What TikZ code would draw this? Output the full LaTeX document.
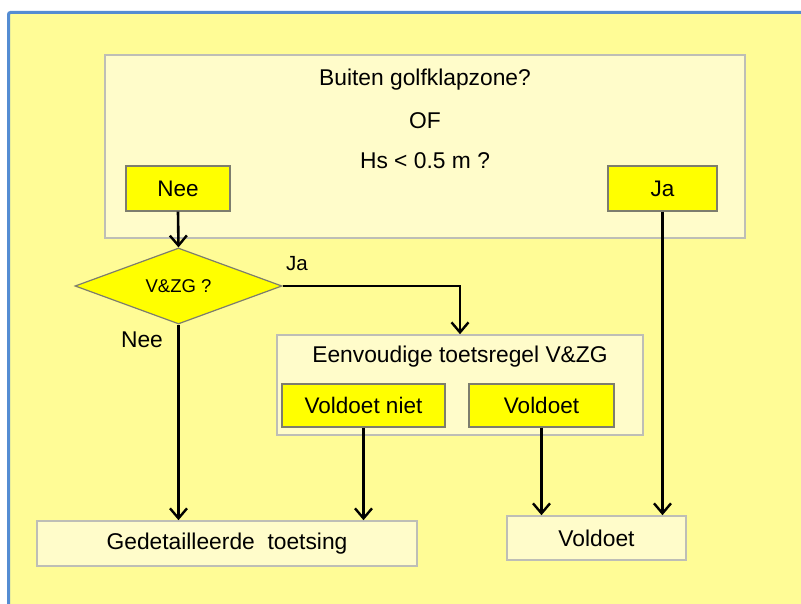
\documentclass[tikz,border=0pt]{standalone}
\usepackage{fontspec}
\setmainfont{Liberation Sans}
\usetikzlibrary{arrows.meta,shapes.geometric}

\definecolor{pagebg}{RGB}{255,252,150}
\definecolor{panelfill}{RGB}{255,252,202}
\definecolor{panelline}{RGB}{190,190,182}
\definecolor{keyfill}{RGB}{255,255,0}
\definecolor{keyline}{RGB}{125,125,110}
\definecolor{frameblue}{RGB}{84,140,210}

\tikzset{
  panel/.style={draw=panelline, fill=panelfill, line width=1.6pt, rectangle, inner sep=0pt},
  keybox/.style={draw=keyline, fill=keyfill, line width=1.4pt, rectangle, inner sep=0pt,
    font=\fontsize{22.5}{26}\selectfont},
  txt/.style={font=\fontsize{22.8}{26}\selectfont, inner sep=0pt},
  flow/.style={draw=black, line width=2.6pt, -{Straight Barb[length=10pt, width=17pt, line width=2.4pt]}}
}

\begin{document}
\begin{tikzpicture}[x=1pt, y=-1pt]
\useasboundingbox (0,0) rectangle (801,604);
\fill[white] (0,0) rectangle (801,604);
\fill[pagebg] (9,12) rectangle (801,604);
\draw[frameblue, line width=3pt, rounded corners=2pt] (8.5,604) -- (8.5,12.5) -- (801,12.5);

% top question panel
\node[panel, minimum width=640pt, minimum height=183pt] (question) at (425,146.5) {};
\node[txt] (qline1) at (425,80) {Buiten golfklapzone?};
\node[txt] (qline2) at (425,121) {OF};
\node[txt] (qline3) at (425,161) {Hs < 0.5 m ?};
\node[keybox, minimum width=104pt, minimum height=45pt] (qnee) at (178,188.5) {Nee};
\node[keybox, minimum width=109pt, minimum height=45pt] (qja) at (662.5,188.5) {Ja};

% decision diamond
\node[diamond, draw=keyline, fill=keyfill, line width=1.2pt, inner sep=0pt,
      minimum width=207pt, minimum height=76pt, aspect=2.72,
      font=\fontsize{18.5}{22}\selectfont] (vzg) at (178.5,286) {V\&ZG ?};

% simple rule panel
\node[panel, minimum width=366pt, minimum height=100pt] (rule) at (460,385) {};
\node[txt] (ruletitle) at (460,357) {Eenvoudige toetsregel V\&ZG};
\node[keybox, minimum width=163pt, minimum height=43pt] (rniet) at (363.5,405.5) {Voldoet niet};
\node[keybox, minimum width=145pt, minimum height=43pt] (rvold) at (541.5,405.5) {Voldoet};

% outcomes
\node[panel, minimum width=380pt, minimum height=45pt, txt] (detail) at (227,543.5) {Gedetailleerde\ \ toetsing};
\node[panel, minimum width=179pt, minimum height=44pt, txt] (pass) at (596.5,538) {Voldoet};

% connectors
\draw[flow] (qnee.south) -- (vzg.north);
\draw[flow] (vzg.east) -| (rule.north);
\draw[flow] (vzg.south) -- (vzg.south |- detail.north);
\draw[flow] (rniet.south) -- (rniet.south |- detail.north);
\draw[flow] (rvold.south) -- (rvold.south |- pass.north);
\draw[flow] (qja.south) -- (qja.south |- pass.north);

% branch labels
\node[txt, font=\fontsize{20.5}{24}\selectfont] (lblja) at (297,264) {Ja};
\node[txt] (lblnee) at (142,340) {Nee};
\end{tikzpicture}
\end{document}
